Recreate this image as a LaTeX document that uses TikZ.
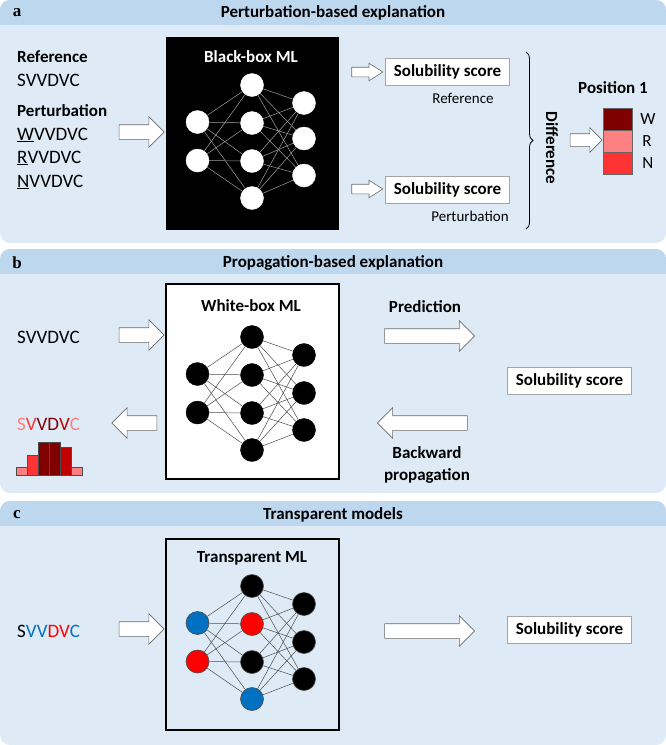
\documentclass[tikz,border=0pt]{standalone}
\usepackage{fontspec}
\setmainfont{Carlito}
\newfontfamily\lblfont{Liberation Serif}
\usetikzlibrary{positioning, shapes.arrows, decorations.pathreplacing}

\definecolor{headblue}{RGB}{189,215,238}
\definecolor{bodyblue}{RGB}{222,235,247}
\definecolor{arrowgray}{RGB}{105,105,105}
\definecolor{boxgray}{RGB}{165,165,165}
\definecolor{darkred}{RGB}{128,0,0}
\definecolor{cred}{RGB}{192,0,0}
\definecolor{midred}{RGB}{255,51,51}
\definecolor{pinkred}{RGB}{255,128,128}
\definecolor{nred}{RGB}{255,0,0}
\definecolor{nblue}{RGB}{0,112,192}

\tikzset{
    paneltitle/.style={font=\fontsize{17}{20}\selectfont\bfseries, inner sep=0pt},
    panellabel/.style={font=\lblfont\fontsize{17}{20}\selectfont\bfseries, inner sep=0pt},
    lbl/.style={font=\fontsize{17}{22}\selectfont\bfseries, inner sep=0pt},
    seq/.style={font=\fontsize{19}{22}\selectfont, anchor=west, inner sep=0pt},
    note/.style={font=\fontsize{15}{18}\selectfont, inner sep=0pt},
    score/.style={draw=boxgray, fill=white, line width=.6pt, font=\fontsize{17}{20}\selectfont\bfseries,
        minimum width=124pt, minimum height=27pt, inner sep=0pt},
    boxtitle/.style={font=\fontsize{17}{20}\selectfont\bfseries, inner sep=0pt},
    mlbox/.style={minimum width=173pt, minimum height=#1, inner sep=0pt},
    blockarrow/.style={shape=single arrow, draw=arrowgray, fill=white, line width=.6pt,
        inner xsep=0pt, single arrow head indent=0pt},
    bigarrow/.style={blockarrow, inner ysep=7pt, single arrow head extend=8pt,
        single arrow tip angle=90, minimum height=#1},
    midarrow/.style={blockarrow, inner ysep=6pt, single arrow head extend=6pt,
        single arrow tip angle=90, minimum height=#1},
    smallarrow/.style={blockarrow, inner ysep=4.5pt, single arrow head extend=4pt,
        single arrow tip angle=65, minimum height=#1},
    neuron/.style={circle, minimum size=23pt, inner sep=0pt},
    nwhite/.style={neuron, draw=white},
    nblack/.style={neuron, draw=black},
    ncol/.style={neuron, draw=black!70, line width=.6pt},
    edgelight/.style={draw=gray!75, line width=.5pt},
    edgedark/.style={draw=black!70, line width=.5pt},
    poscell/.style={draw=gray!80!black, line width=.4pt, minimum width=29pt, minimum height=21.7pt, inner sep=0pt},
    letter/.style={font=\fontsize{17}{20}\selectfont, inner sep=0pt},
    bracket/.style={decorate, decoration={brace, amplitude=7pt}, draw=black, line width=.8pt},
    bar/.style={draw=gray!60!black, line width=.4pt}
}

% network: prefix, centre y, node style, edge style, layer lists (offset/fill)
\newcommand{\mlnet}[7]{%
    \foreach \dy/\fc [count=\i] in {#5}
        \node[#3, fill=\fc] (#1-1-\i) at (197.5,{#2+\dy}) {};
    \foreach \dy/\fc [count=\i] in {#6}
        \node[#3, fill=\fc] (#1-2-\i) at (252,{#2+\dy}) {};
    \foreach \dy/\fc [count=\i] in {#7}
        \node[#3, fill=\fc] (#1-3-\i) at (304,{#2+\dy}) {};
    \foreach \i in {1,2} \foreach \j in {1,...,4}
        \draw[#4] (#1-1-\i) -- (#1-2-\j);
    \foreach \i in {1,...,4} \foreach \j in {1,2,3}
        \draw[#4] (#1-2-\i) -- (#1-3-\j);
}

\begin{document}
\begin{tikzpicture}[x=1pt, y=-1pt]
    \useasboundingbox (0,0) rectangle (666,745);

    % panels
    \foreach \top/\bot in {0/243, 249/493, 501/745} {
        \begin{scope}
            \clip[rounded corners=10pt] (0,\top) rectangle (666,\bot);
            \fill[bodyblue] (0,\top) rectangle (666,\bot);
            \fill[headblue] (0,\top) rectangle (666,{\top+25});
        \end{scope}
    }

    % a
    \node[panellabel] (lab-a) at (17,13) {a};
    \node[paneltitle] (title-a) at (333,13) {Perturbation-based explanation};
    \node[lbl, anchor=west] (ref-head) at (17,57) {Reference};
    \node[seq] (ref-seq) at (17,80) {SVVDVC};
    \node[lbl, anchor=west] (pert-head) at (17,111) {Perturbation};
    \node[seq] (pert-w) at (17,135) {\underline{W}VVDVC};
    \node[seq] (pert-r) at (17,158) {\underline{R}VVDVC};
    \node[seq] (pert-n) at (17,182) {\underline{N}VVDVC};
    \node[bigarrow=45pt] (in-a) at (138,132) {};
    \node[mlbox=193pt, fill=black] (bb) at (252,133.5) {};
    \node[boxtitle, text=white] (bb-title) at (251,57) {Black-box ML};
    \mlnet{a}{141.5}{nwhite}{edgelight}{-19.5/white, 19/white}{-56.5/white, -18.5/white, 19.5/white, 56.5/white}{-38.5/white, -3/white, 34/white}
    \node[smallarrow=31pt] (to-ref) at (363.5,72) {};
    \node[score] (score-ref) at (447.5,71.5) {Solubility score};
    \node[note] (note-ref) at (463,98) {Reference};
    \node[smallarrow=31pt] (to-pert) at (363.5,189) {};
    \node[score] (score-pert) at (447.5,189.5) {Solubility score};
    \node[note] (note-pert) at (470,216) {Perturbation};
    \coordinate (br-top) at (526,52);
    \coordinate (br-bot) at (526,229);
    \draw[bracket] (br-top) -- (br-bot);
    \node[lbl, rotate=-90] (diff) at (552,148) {Difference};
    \node[midarrow=32pt] (to-pos) at (583,140) {};
    \node[lbl] (pos-title) at (613,88) {Position 1};
    \node[poscell, fill=darkred] (pos-w) at (617.5,119) {};
    \node[poscell, fill=pinkred, below=0pt of pos-w] (pos-r) {};
    \node[poscell, fill=midred, below=0pt of pos-r] (pos-n) {};
    \node[letter, right=8pt of pos-w] (lw) {W};
    \node[letter, right=10pt of pos-r] (lr) {R};
    \node[letter, right=10pt of pos-n] (ln) {N};

    % b
    \node[panellabel] (lab-b) at (17,263) {b};
    \node[paneltitle] (title-b) at (333,263) {Propagation-based explanation};
    \node[seq] (seq-b) at (17,337) {SVVDVC};
    \node[bigarrow=45pt] (in-b) at (138,335) {};
    \node[mlbox=195pt, draw=black, line width=2pt, fill=white] (wb) at (252,381.5) {};
    \node[boxtitle] (wb-title) at (251,306) {White-box ML};
    \mlnet{b}{393.5}{nblack}{edgedark}{-19.5/black, 19/black}{-56.5/black, -18.5/black, 19.5/black, 56.5/black}{-38.5/black, -0.5/black, 36.5/black}
    \node[lbl] (pred) at (425,307) {Prediction};
    \node[bigarrow=90pt] (fwd-b) at (426,336) {};
    \node[score] (score-b) at (569.5,380.5) {Solubility score};
    \node[bigarrow=90pt, shape border rotate=180] (back-b) at (426,423) {};
    \node[lbl, align=center] (backprop) at (427,465) {Backward\\propagation};
    \node[bigarrow=45pt, shape border rotate=180] (out-b) at (138,423) {};
    \node[seq] (rel-seq) at (17,424) {\textcolor{pinkred}{S}\textcolor{midred}{V}\textcolor{darkred}{VD}\textcolor{cred}{V}\textcolor{pinkred}{C}};
    \foreach \h/\c [count=\i] in {8/pinkred, 20/midred, 33/darkred, 33/darkred, 28/cred, 8/pinkred}
        \draw[bar, fill=\c] ({16+11*(\i-1)},475) rectangle ++(11,-\h);

    % c
    \node[panellabel] (lab-c) at (17,515) {c};
    \node[paneltitle] (title-c) at (333,515) {Transparent models};
    \node[seq] (seq-c) at (17,631) {S\textcolor{nblue}{VV}\textcolor{nred}{DV}\textcolor{nblue}{C}};
    \node[bigarrow=45pt] (in-c) at (138,629) {};
    \node[mlbox=191pt, draw=black, line width=2pt] (tb) at (252,634.5) {};
    \node[boxtitle] (tb-title) at (252,558) {Transparent ML};
    \mlnet{c}{642.5}{ncol}{edgedark}{-19.5/nblue, 19/nred}{-56.5/black, -18.5/nred, 19.5/black, 56.5/nblue}{-38.5/black, -0.5/black, 36.5/black}
    \node[bigarrow=90pt] (fwd-c) at (426,631) {};
    \node[score] (score-c) at (569.5,629.5) {Solubility score};
\end{tikzpicture}
\end{document}
